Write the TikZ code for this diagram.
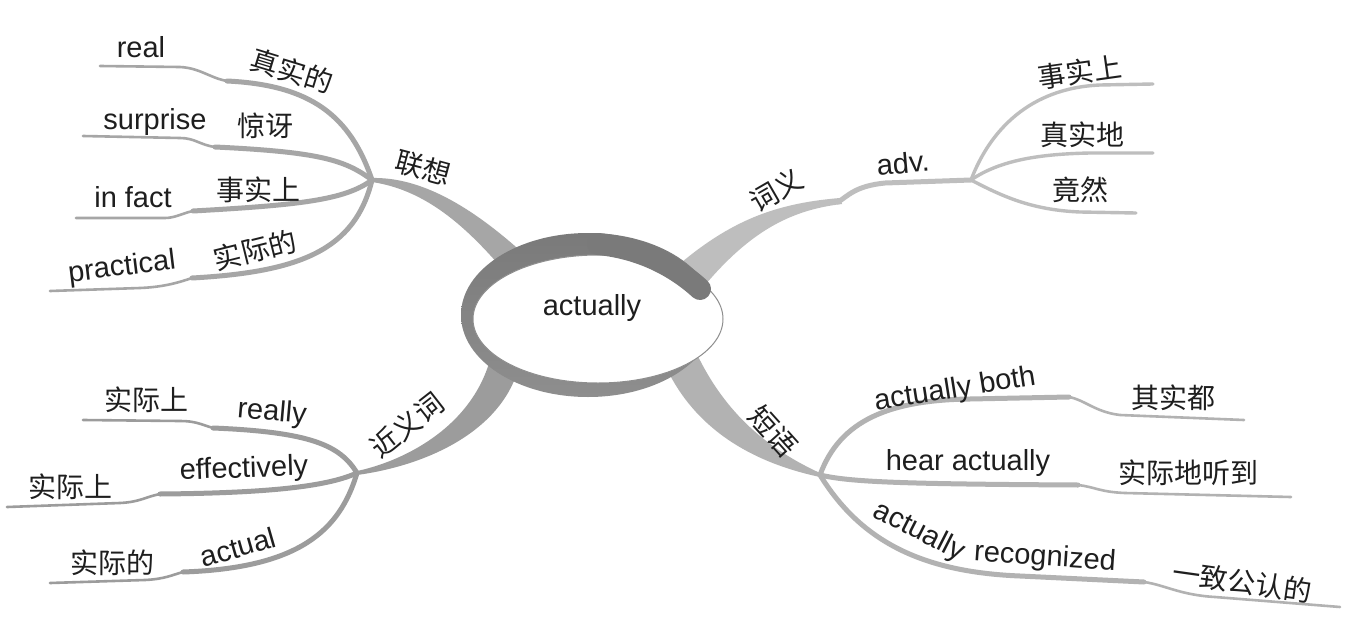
\documentclass[tikz,border=0pt]{standalone}
\usepackage{fontspec}
\setmainfont{Liberation Sans}
\newfontfamily\cjk{Noto Sans CJK SC}
\definecolor{txt}{HTML}{1E1E1E}
\definecolor{brL}{HTML}{A6A6A6}
\definecolor{brTR}{HTML}{BEBEBE}
\definecolor{brBL}{HTML}{9C9C9C}
\definecolor{brBR}{HTML}{B2B2B2}
\definecolor{ringc}{HTML}{7A7A7A}
\definecolor{ringb}{HTML}{8E8E8E}
\begin{document}
\begin{tikzpicture}[x=1pt,y=-1pt,
  en/.style={font=\fontsize{29}{30}\selectfont, text=txt, inner sep=0pt},
  zh/.style={font=\cjk\fontsize{28}{30}\selectfont, text=txt, inner sep=0pt},
  inL/.style={draw=brL, line width=5, line cap=round},
  outL/.style={draw=brL, line width=2.6, line cap=round},
  subR/.style={draw=brTR, line width=3.4, line cap=round},
  advline/.style={draw=brTR, line width=5, line cap=round},
  inBL/.style={draw=brBL, line width=5, line cap=round},
  outBL/.style={draw=brBL, line width=2.6, line cap=round},
  inBR/.style={draw=brBR, line width=5, line cap=round},
  outBR/.style={draw=brBR, line width=2.6, line cap=round}]
\useasboundingbox (0,0) rectangle (1353,629);
\fill[white] (0,0) rectangle (1353,629);

% ---------- hubs, junctions, ends ----------
\coordinate (hL) at (372,180);
\coordinate (jL1) at (227,81);  \coordinate (eL1) at (100,66);
\coordinate (jL2) at (215,147); \coordinate (eL2) at (83,136);
\coordinate (jL3) at (193,211); \coordinate (eL3) at (76,218);
\coordinate (jL4) at (192,278); \coordinate (eL4) at (50,291);
\coordinate (hR) at (971,180);
\coordinate (nR) at (838,202);
\coordinate (eR1) at (1153,84); \coordinate (eR2) at (1153,153); \coordinate (eR3) at (1136,213);
\coordinate (hBL) at (357,473);
\coordinate (jB1) at (213,428); \coordinate (eB1) at (83,420);
\coordinate (jB2) at (160,494); \coordinate (eB2) at (7,507);
\coordinate (jB3) at (183,572); \coordinate (eB3) at (50,583);
\coordinate (hBR) at (820,475);
\coordinate (jC1) at (1069,397); \coordinate (eC1) at (1244,420);
\coordinate (jC2) at (1078,485); \coordinate (eC2) at (1291,497);
\coordinate (jC3) at (1144,582); \coordinate (eC3) at (1340,607);

% ---------- sub-branches ----------
\draw[inL] (hL) .. controls (350,115) and (310,85) .. (jL1);
\draw[outL] (jL1) .. controls (210,78) and (200,68) .. (180,67) -- (eL1);
\draw[inL] (hL) .. controls (345,160) and (320,152) .. (jL2);
\draw[outL] (jL2) .. controls (200,145) and (195,138) .. (180,138) -- (eL2);
\draw[inL] (hL) .. controls (345,200) and (300,205) .. (jL3);
\draw[outL] (jL3) .. controls (183,213) and (175,218) .. (165,218) -- (eL3);
\draw[inL] (hL) .. controls (355,250) and (300,272) .. (jL4);
\draw[outL] (jL4) .. controls (180,282) and (165,287) .. (140,288) -- (eL4);

\draw[advline] (hR) -- (885,183) .. controls (855,186) and (848,196) .. (nR);
\draw[subR] (hR) .. controls (990,130) and (1030,88) .. (1100,85) -- (eR1);
\draw[subR] (hR) .. controls (1000,160) and (1040,154) .. (1090,153) -- (eR2);
\draw[subR] (hR) .. controls (1000,195) and (1030,210) .. (1080,212) -- (eR3);

\draw[inBL] (hBL) .. controls (340,445) and (310,432) .. (jB1);
\draw[outBL] (jB1) .. controls (200,424) and (195,421) .. (180,421) -- (eB1);
\draw[inBL] (hBL) .. controls (330,485) and (280,493) .. (jB2);
\draw[outBL] (jB2) .. controls (145,497) and (140,502) .. (120,503) -- (eB2);
\draw[inBL] (hBL) .. controls (340,530) and (300,568) .. (jB3);
\draw[outBL] (jB3) .. controls (172,575) and (165,579) .. (145,580) -- (eB3);

\draw[inBR] (hBR) .. controls (840,420) and (890,400) .. (970,399) -- (jC1);
\draw[outBR] (jC1) .. controls (1085,400) and (1095,412) .. (1120,415) -- (eC1);
\draw[inBR] (hBR) .. controls (850,482) and (900,484) .. (jC2);
\draw[outBR] (jC2) .. controls (1095,487) and (1100,492) .. (1125,493) -- (eC2);
\draw[inBR] (hBR) .. controls (860,540) and (920,572) .. (1020,576) -- (jC3);
\draw[outBR] (jC3) .. controls (1165,585) and (1180,595) .. (1215,597) -- (eC3);

% ---------- main tapered bands ----------
\fill[brL] (372,178) .. controls (420,177) and (470,205) .. (525,255) -- (505,272) .. controls (465,225) and (425,190) .. (372,182) -- cycle;
\fill[brTR] (682,262) .. controls (735,218) and (780,203) .. (840,198) -- (842,204) .. controls (790,210) and (750,232) .. (705,285) -- cycle;
\fill[brBL] (357,471) .. controls (400,462) and (470,430) .. (490,360) -- (518,370) .. controls (500,430) and (430,465) .. (357,475) -- cycle;
\fill[brBR] (665,365) .. controls (690,420) and (740,460) .. (820,477) -- (820,473) .. controls (770,450) and (725,415) .. (695,350) -- cycle;

% ---------- central ring ----------
\shade[top color=ringc, bottom color=ringb] (588,315) ellipse [x radius=127, y radius=82];
\fill[white, draw=ringb, line width=1] (598,319) ellipse [x radius=125, y radius=64];
\draw[ringc, line width=22, line cap=round] (598,244) .. controls (640,248) and (675,266) .. (700,289);
\node[en] (c) at (592,308) {actually};

% ---------- labels ----------
\node[zh, rotate=-15] (lx) at (423,168) {联想};
\node[en] (t1) at (141,47) {real};
\node[zh, rotate=-17] (t1z) at (292,71) {真实的};
\node[en] (t2) at (155,122) {surprise};
\node[zh] (t2z) at (265,126) {惊讶};
\node[en] (t3) at (133,197) {in fact};
\node[zh] (t3z) at (258,190) {事实上};
\node[en, rotate=7] (t4) at (122,268) {practical};
\node[zh, rotate=14] (t4z) at (255,250) {实际的};

\node[zh, rotate=30] (cy) at (776,190) {词义};
\node[en, rotate=5] (adv) at (903,163) {adv.};
\node[zh, rotate=8] (r1) at (1080,72) {事实上};
\node[zh] (r2) at (1082,135) {真实地};
\node[zh] (r3) at (1080,190) {竟然};

\node[zh, rotate=38] (jy) at (407,425) {近义词};
\node[zh] (b1z) at (146,400) {实际上};
\node[en, rotate=-5] (b1) at (272,413) {really};
\node[en, rotate=2] (b2) at (244,470) {effectively};
\node[zh] (b2z) at (70,487) {实际上};
\node[en, rotate=16] (b3) at (238,547) {actual};
\node[zh] (b3z) at (112,563) {实际的};

\node[zh, rotate=-48] (dy) at (773,431) {短语};
\node[en, rotate=9] (d1) at (955,390) {actually both};
\node[zh] (d1z) at (1173,398) {其实都};
\node[en] (d2) at (968,463) {hear actually};
\node[zh] (d2z) at (1188,473) {实际地听到};
\node[en, rotate=-27] (d3a) at (919,532) {actually};
\node[en, rotate=-4] (d3b) at (1045,558) {recognized};
\node[zh, rotate=-8] (d3z) at (1242,582) {一致公认的};
\end{tikzpicture}
\end{document}
